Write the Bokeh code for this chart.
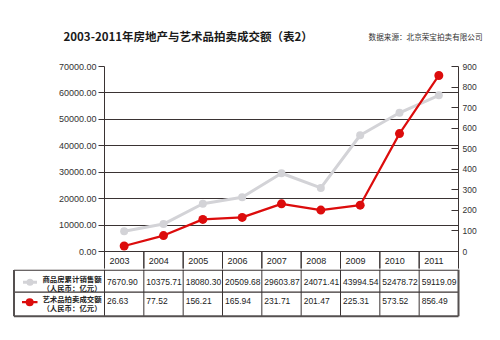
from bokeh.plotting import figure
from bokeh.layouts import column
from bokeh.models import Range1d, LinearAxis, FixedTicker, NumeralTickFormatter, FactorRange
from bokeh.core.properties import value
from bokeh.embed import file_html
from bokeh.resources import INLINE

# ---------------- data ----------------
title_text = "2003-2011年房地产与艺术品拍卖成交额（表2）"
source_text = "数据来源：北京荣宝拍卖有限公司"
years = ["2003", "2004", "2005", "2006", "2007", "2008", "2009", "2010", "2011"]
sales = [7670.90, 10375.71, 18080.30, 20509.68, 29603.87, 24071.41, 43994.54, 52478.72, 59119.09]
art = [26.63, 77.52, 156.21, 165.94, 231.71, 201.47, 225.31, 573.52, 856.49]
sales_label = ["商品房累计销售额", "（人民币：亿元）"]
art_label = ["艺术品拍卖成交额", "（人民币：亿元）"]
sales_text = ["7670.90", "10375.71", "18080.30", "20509.68", "29603.87", "24071.41", "43994.54", "52478.72", "59119.09"]
art_text = ["26.63", "77.52", "156.21", "165.94", "231.71", "201.47", "225.31", "573.52", "856.49"]
left_ticks = [0, 10000, 20000, 30000, 40000, 50000, 60000, 70000]
right_ticks = [0, 100, 200, 300, 400, 500, 600, 700, 800, 900]
sales_max = 70000
art_max = 900

# ---------------- layout constants (pixels) ----------------
W = 500
FRAME_L, FRAME_R = 104, 458
TABLE_L = 13.5
TOP_H = 60
A_TOP = 66
ZERO_Y = 251
A_BOT = 268
B_TOP = A_BOT + 1
B_H = 340 - B_TOP
colw = (FRAME_R - FRAME_L) / len(years)

GRID = "#3a3333"
GRAY = "#d3d3d7"
RED = "#dc0c0c"
TXT = "#222222"
NUMFONT = value("Liberation Sans")
CJK = value("Noto Sans CJK SC")

# ---------------- title strip ----------------
pT = figure(width=W, height=TOP_H, x_range=Range1d(0, W), y_range=Range1d(TOP_H, 0),
            min_border=0, x_axis_location=None, y_axis_location=None,
            toolbar_location=None, output_backend="svg", frame_align=False)
pT.outline_line_color = None
pT.grid.visible = False
pT.text(x=[63], y=[35], text=[title_text], text_align="left", text_baseline="middle",
        text_font=CJK, text_font_size="11.5px", text_font_style="bold", text_color="#1a1a1a")
pT.text(x=[482], y=[36], text=[source_text], text_align="right", text_baseline="middle",
        text_font=CJK, text_font_size="7.6px", text_color="#333333")

# ---------------- chart ----------------
plot_h = ZERO_Y - A_TOP
below = A_BOT - ZERO_Y
y0 = -below / plot_h * sales_max
r0 = -below / plot_h * art_max

pA = figure(width=W, height=A_BOT + 1 - TOP_H,
            x_range=FactorRange(*years, range_padding=0),
            y_range=Range1d(y0, sales_max),
            min_border_left=FRAME_L, min_border_right=W - FRAME_R,
            min_border_top=A_TOP - TOP_H, min_border_bottom=1,
            x_axis_location=None, y_axis_location="left",
            toolbar_location=None, output_backend="svg", frame_align=False)
pA.extra_y_ranges = {"art": Range1d(r0, art_max)}
pA.outline_line_color = None
pA.xgrid.visible = False
pA.ygrid[0].ticker = FixedTicker(ticks=left_ticks)
pA.ygrid.grid_line_color = GRID
pA.ygrid.grid_line_width = 1

ly = pA.yaxis[0]
ly.ticker = FixedTicker(ticks=left_ticks)
ly.formatter = NumeralTickFormatter(format="0.00")
ly.major_tick_out = 6
ly.major_tick_in = 0
ly.minor_tick_out = 0
ly.minor_tick_in = 0
ly.major_label_standoff = 2
ly.major_label_text_font = "Liberation Sans"
ly.major_label_text_font_size = "9px"
ly.major_label_text_color = "#333333"
ly.axis_line_color = GRID
ly.major_tick_line_color = GRID

ry = LinearAxis(y_range_name="art", ticker=FixedTicker(ticks=right_ticks))
ry.major_tick_in = 7
ry.major_tick_out = 0
ry.minor_tick_out = 0
ry.minor_tick_in = 0
ry.major_label_standoff = 4
ry.major_label_text_font = "Liberation Sans"
ry.major_label_text_font_size = "8.5px"
ry.major_label_text_color = "#333333"
ry.axis_line_color = GRID
ry.major_tick_line_color = GRID
pA.add_layout(ry, "right")

# header row cells (years)
pA.rect(x=years, y=[y0 * 0.75] * len(years), width=1, height=-y0 * 1.5,
        fill_color=None, line_color=GRID, line_width=1)
hdr_y = -(260.5 - ZERO_Y) / plot_h * sales_max
pA.text(x=years, y=[hdr_y] * len(years), text=years, x_offset=-colw / 2 + 5,
        text_align="left", text_baseline="middle", text_font=NUMFONT,
        text_font_size="9px", text_color=TXT)

# series
pA.line(x=years, y=sales, line_color=GRAY, line_width=3)
pA.scatter(x=years, y=sales, size=8, fill_color=GRAY, line_color=None)
pA.line(x=years, y=art, y_range_name="art", line_color=RED, line_width=2.2)
pA.scatter(x=years, y=art, y_range_name="art", size=9, fill_color=RED, line_color=None)

# ---------------- table body ----------------
pB = figure(width=W, height=B_H, x_range=Range1d(0, W), y_range=Range1d(B_H, 0),
            min_border=0, x_axis_location=None, y_axis_location=None,
            toolbar_location=None, output_backend="svg", frame_align=False)
pB.outline_line_color = None
pB.grid.visible = False

row_top, row_mid, row_bot = 0.6, 291.7 - B_TOP, 315.7 - B_TOP
col_edges = [FRAME_L + i * colw for i in range(len(years) + 1)]

# horizontal lines
pB.segment(x0=[TABLE_L, TABLE_L], y0=[row_top, row_mid], x1=[FRAME_R, FRAME_R], y1=[row_top, row_mid],
           line_color=GRID, line_width=1.2)
# inner vertical lines
pB.segment(x0=col_edges[:-1], y0=[0] * len(years), x1=col_edges[:-1], y1=[row_bot] * len(years),
           line_color=GRID, line_width=1)
# outer border
pB.segment(x0=[TABLE_L, FRAME_R, TABLE_L], y0=[row_top, 0, row_bot],
           x1=[TABLE_L, FRAME_R, FRAME_R], y1=[row_bot, row_bot, row_bot],
           line_color="#555050", line_width=2)

# values
cell_x = [e + 2.5 for e in col_edges[:-1]]
pB.text(x=cell_x, y=[281.7 - B_TOP] * len(years), text=sales_text, text_align="left",
        text_baseline="middle", text_font=NUMFONT, text_font_size="8.5px", text_color=TXT)
pB.text(x=cell_x, y=[300 - B_TOP] * len(years), text=art_text, text_align="left",
        text_baseline="middle", text_font=NUMFONT, text_font_size="8.5px", text_color=TXT)

# row labels
lab_x = 71.5
pB.text(x=[lab_x, lab_x], y=[277.6 - B_TOP, 286.8 - B_TOP], text=sales_label, text_align="center",
        text_baseline="middle", text_font=CJK, text_font_size="7.4px", text_font_style="bold",
        text_color=TXT)
pB.text(x=[lab_x, lab_x], y=[297.8 - B_TOP, 307 - B_TOP], text=art_label, text_align="center",
        text_baseline="middle", text_font=CJK, text_font_size="7.4px", text_font_style="bold",
        text_color=TXT)

# legend markers
pB.line(x=[22.5, 36.5], y=[281.7 - B_TOP] * 2, line_color=GRAY, line_width=3)
pB.scatter(x=[29.5], y=[281.7 - B_TOP], size=7, fill_color=GRAY, line_color=None)
pB.line(x=[21.5, 37], y=[301.7 - B_TOP] * 2, line_color=RED, line_width=2.2)
pB.scatter(x=[29.2], y=[301.7 - B_TOP], size=8, fill_color=RED, line_color=None)

layout = column(pT, pA, pB, spacing=0)
open("out.html", "w").write(file_html(layout, INLINE))
